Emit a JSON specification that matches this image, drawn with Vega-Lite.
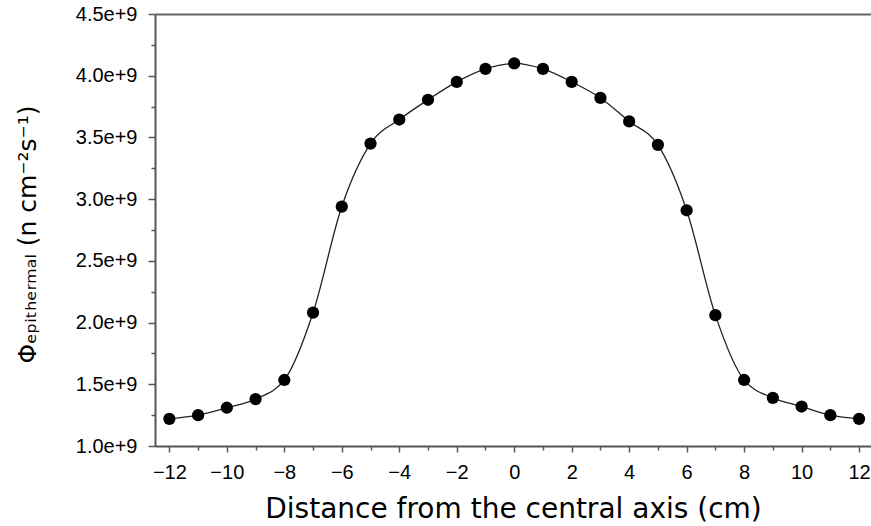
{
  "$schema": "https://vega.github.io/schema/vega-lite/v6.json",
  "width": 717,
  "height": 432,
  "autosize": {"type": "none"},
  "padding": {"left": 155, "top": 14, "right": 0, "bottom": 80},
  "background": "white",
  "config": {
    "view": {"stroke": null},
    "axis": {"labelFont": "Liberation Sans", "titleFont": "Liberation Sans", "labelColor": "#000", "titleColor": "#000", "grid": false, "domainColor": "#555", "tickColor": "#555", "domainWidth": 2, "tickWidth": 1.5, "titleFontWeight": "normal"}
  },
  "data": {"values": [
    {"x": -12, "y": 1.22e9}, {"x": -11, "y": 1.25e9}, {"x": -10, "y": 1.31e9}, {"x": -9, "y": 1.38e9},
    {"x": -8, "y": 1.535e9}, {"x": -7, "y": 2.08e9}, {"x": -6, "y": 2.94e9}, {"x": -5, "y": 3.45e9},
    {"x": -4, "y": 3.645e9}, {"x": -3, "y": 3.805e9}, {"x": -2, "y": 3.95e9}, {"x": -1, "y": 4.055e9},
    {"x": 0, "y": 4.10e9}, {"x": 1, "y": 4.055e9}, {"x": 2, "y": 3.95e9}, {"x": 3, "y": 3.82e9},
    {"x": 4, "y": 3.63e9}, {"x": 5, "y": 3.44e9}, {"x": 6, "y": 2.91e9}, {"x": 7, "y": 2.06e9},
    {"x": 8, "y": 1.535e9}, {"x": 9, "y": 1.39e9}, {"x": 10, "y": 1.32e9}, {"x": 11, "y": 1.25e9},
    {"x": 12, "y": 1.22e9}
  ]},
  "resolve": {"axis": {"x": "independent", "y": "independent"}},
  "layer": [
    {
      "mark": {"type": "line", "interpolate": "monotone", "color": "#222", "strokeWidth": 1.3},
      "encoding": {
        "x": {"field": "x", "type": "quantitative", "scale": {"domain": [-12.5, 12.45], "nice": false, "zero": false},
          "axis": {"orient": "bottom", "values": [-12, -10, -8, -6, -4, -2, 0, 2, 4, 6, 8, 10, 12], "tickSize": 6, "labelPadding": 10, "labelFontSize": 20, "labelFont": "Liberation Sans",
            "title": "Distance from the central axis (cm)", "titleFont": "DejaVu Sans", "titleFontSize": 28, "titleX": 358, "titleY": 71, "titleBaseline": "alphabetic", "titleAlign": "center"}},
        "y": {"field": "y", "type": "quantitative", "scale": {"domain": [1e9, 4.5e9], "nice": false, "zero": false},
          "axis": {"orient": "left", "values": [1e9, 1.5e9, 2e9, 2.5e9, 3e9, 3.5e9, 4e9, 4.5e9], "tickSize": 7, "labelPadding": 11, "labelFontSize": 20, "labelFont": "Liberation Sans",
            "labelExpr": "format(datum.value/1e9,'.1f')+'e+9'",
            "title": "Φₑₚᵢₜₕₑᵣₘₐₗ (n cm⁻²s⁻¹)", "titleFont": "DejaVu Sans", "titleFontSize": 25, "titleX": -128, "titleY": 220, "titleAngle": -90, "titleAlign": "center", "titleBaseline": "middle"}}
      }
    },
    {
      "mark": {"type": "point", "filled": true, "color": "#000", "opacity": 1, "size": 150, "shape": "circle"},
      "encoding": {
        "x": {"field": "x", "type": "quantitative", "axis": {"orient": "bottom", "values": [-11, -9, -7, -5, -3, -1, 1, 3, 5, 7, 9, 11], "tickSize": 4, "labels": false, "domain": false, "title": null}},
        "y": {"field": "y", "type": "quantitative", "axis": {"orient": "left", "values": [1.25e9, 1.75e9, 2.25e9, 2.75e9, 3.25e9, 3.75e9, 4.25e9], "tickSize": 4, "labels": false, "domain": false, "title": null}}
      }
    },
    {
      "mark": {"type": "point", "opacity": 0},
      "encoding": {
        "x": {"field": "x", "type": "quantitative", "axis": {"orient": "top", "ticks": false, "labels": false, "title": null, "domainColor": "#666"}},
        "y": {"field": "y", "type": "quantitative", "axis": null}
      }
    }
  ]
}
